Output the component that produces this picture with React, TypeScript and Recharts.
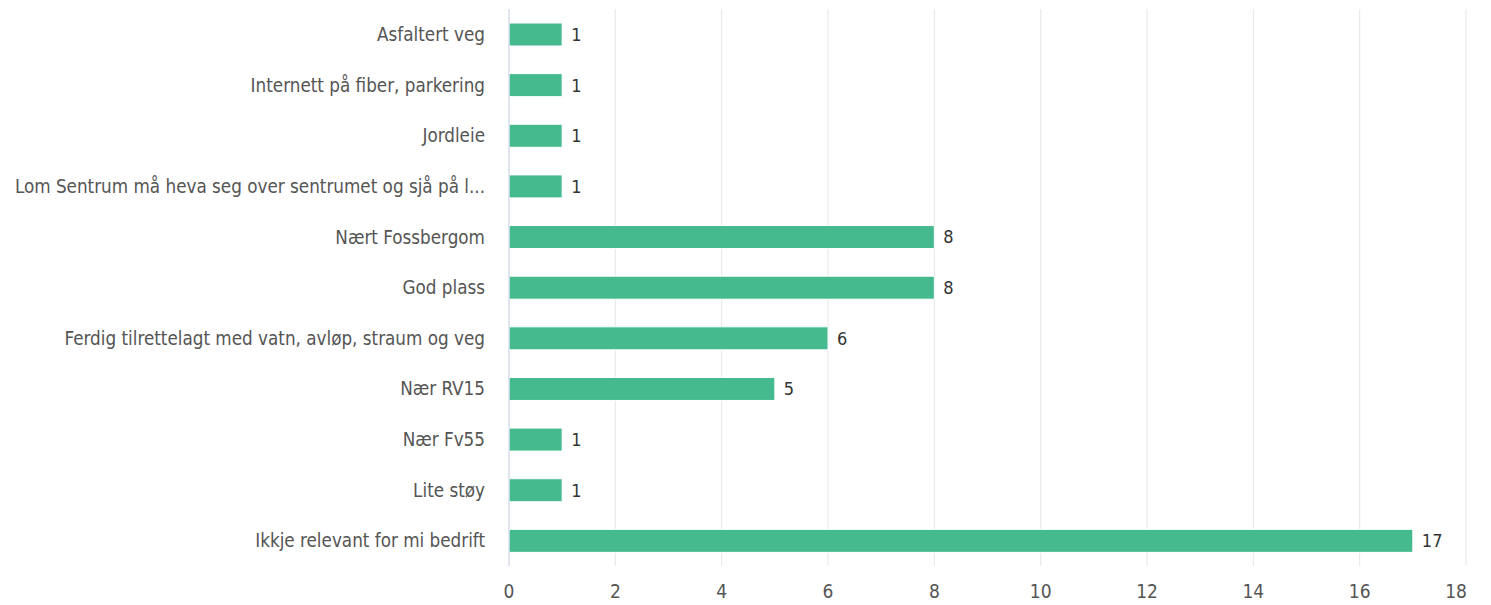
import { BarChart, Bar, XAxis, YAxis, CartesianGrid, LabelList } from "recharts";

const categories = [
  "Asfaltert veg",
  "Internett på fiber, parkering",
  "Jordleie",
  "Lom Sentrum må heva seg over sentrumet og sjå på l...",
  "Nært Fossbergom",
  "God plass",
  "Ferdig tilrettelagt med vatn, avløp, straum og veg",
  "Nær RV15",
  "Nær Fv55",
  "Lite støy",
  "Ikkje relevant for mi bedrift",
];
const counts = [1, 1, 1, 1, 8, 8, 6, 5, 1, 1, 17];
const xTicks = [0, 2, 4, 6, 8, 10, 12, 14, 16, 18];

const data = categories.map((name, i) => ({ name, value: counts[i] }));

const FONT = "'Liberation Sans Narrow', 'DejaVu Sans Condensed', 'Roboto Condensed', 'Open Sans', sans-serif";

// last label is pulled inside the plot, like the original
function XTick(props: any) {
  const { x, y, payload, index } = props;
  const last = index === xTicks.length - 1;
  return (
    <text
      x={last ? x + 1 : x}
      y={y}
      dy="0.71em"
      textAnchor={last ? "end" : "middle"}
      fill="#555"
      fontSize={19}
      fontFamily={FONT}
    >
      {payload.value}
    </text>
  );
}

export default function App() {
  return (
    <div style={{ position: "absolute", left: 0, top: 0, background: "#fff", fontFamily: FONT }}>
      <BarChart
        width={1491}
        height={605}
        data={data}
        layout="vertical"
        margin={{ top: 9, right: 25, bottom: 9, left: 0 }}
        barCategoryGap={0}
      >
        <CartesianGrid horizontal={false} stroke="#e6e6e6" />
        <XAxis
          type="number"
          domain={[0, 18]}
          ticks={xTicks}
          axisLine={false}
          tickLine={false}
          tickSize={0}
          tickMargin={19}
          height={30}
          tick={<XTick />}
        />
        <YAxis
          type="category"
          dataKey="name"
          width={509}
          axisLine={{ stroke: "#ccd6eb" }}
          tickLine={false}
          tickSize={0}
          tickMargin={24}
          interval={0}
          tick={{ fill: "#555", fontSize: 18.7, fontFamily: FONT }}
        />
        <Bar dataKey="value" fill="#45ba8f" stroke="#fff" strokeWidth={1} barSize={23} isAnimationActive={false}>
          <LabelList dataKey="value" position="right" offset={9} fill="#333" fontSize={18} fontFamily={FONT} />
        </Bar>
      </BarChart>
    </div>
  );
}
